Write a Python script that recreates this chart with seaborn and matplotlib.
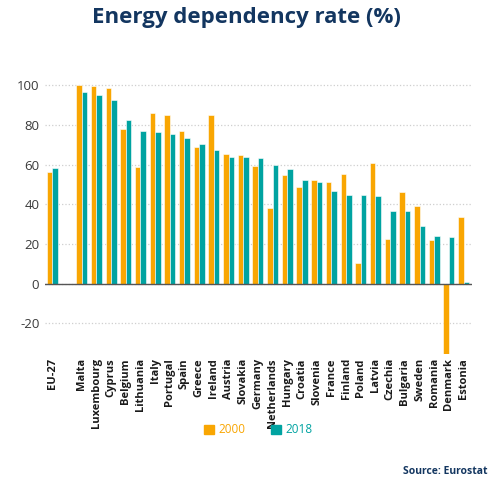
import matplotlib
matplotlib.use('Agg')
from matplotlib import pyplot as plt
from matplotlib.patches import Patch
import pandas as pd
import seaborn as sns

# Energy dependency rate (%), Eurostat
countries = ["EU-27", "Malta", "Luxembourg", "Cyprus", "Belgium", "Lithuania", "Italy",
             "Portugal", "Spain", "Greece", "Ireland", "Austria", "Slovakia", "Germany",
             "Netherlands", "Hungary", "Croatia", "Slovenia", "France", "Finland", "Poland",
             "Latvia", "Czechia", "Bulgaria", "Sweden", "Romania", "Denmark", "Estonia"]
rate_2000 = [56.2, 100.0, 99.5, 98.5, 78.1, 58.8, 86.2, 85.2, 76.8, 68.7, 85.2, 65.3, 64.8,
             59.1, 38.2, 54.9, 48.5, 52.5, 51.0, 55.4, 10.6, 60.9, 22.6, 46.3, 39.2, 21.9,
             -35.4, 33.8]
rate_2018 = [58.2, 96.5, 95.0, 92.4, 82.5, 77.1, 76.3, 75.6, 73.2, 70.4, 67.3, 64.1, 63.6,
             63.5, 59.6, 57.9, 52.5, 51.2, 46.5, 44.9, 44.6, 44.1, 36.7, 36.4, 29.0, 24.1,
             23.6, 0.8]
years = ["2000", "2018"]
y_ticks = [-20, 0, 20, 40, 60, 80, 100]

orange = '#F9A602'
teal = '#00A3A1'
navy = '#133660'

df = pd.DataFrame({
    'country': countries * 2,
    'rate': rate_2000 + rate_2018,
    'year': [years[0]] * len(countries) + [years[1]] * len(countries),
})
# blank slot after EU-27
order = [countries[0], ""] + countries[1:]

plt.rcParams['font.family'] = ['Open Sans', 'DejaVu Sans']
plt.rcParams['axes.unicode_minus'] = False
fig = plt.figure(figsize=(4.92, 4.84), dpi=100)
ax = fig.add_axes([0.0913, 0.2686, 0.8674, 0.5674])

sns.barplot(data=df, x='country', y='rate', hue='year', order=order,
            hue_order=years, palette=[orange, teal], saturation=1, width=0.75,
            edgecolor='white', linewidth=0.4, legend=False, ax=ax)

ax.set_ylim(-35.5, 103)
ax.set_xlim(-0.5, 28.55)
ax.set_yticks(y_ticks)
ax.set_xlabel('')
ax.set_ylabel('')
for s in ax.spines.values():
    s.set_visible(False)
ax.grid(axis='y', color='#cfcfcf', linestyle=':', linewidth=0.9)
ax.set_axisbelow(True)
ax.axhline(0, color='#555555', linewidth=1.0, zorder=3)
ax.tick_params(axis='both', length=0)
ax.tick_params(axis='y', labelsize=9.5, labelcolor='#3a3a3a', pad=4)
ax.tick_params(axis='x', labelsize=8, labelcolor='#1a1a1a', pad=3)
plt.setp(ax.get_xticklabels(), rotation=90, fontweight='bold')

fig.text(0.5, 0.964, 'Energy dependency rate (%)', ha='center', va='center',
         fontsize=16, fontweight='bold', color=navy)

handles = [Patch(color=orange, label='2000'), Patch(color=teal, label='2018')]
leg = fig.legend(handles=handles, loc='center', bbox_to_anchor=(0.525, 0.112), ncol=2,
                 frameon=False, fontsize=8.5, handlelength=0.8, handleheight=0.8,
                 handletextpad=0.4, columnspacing=2.2)
for t, c in zip(leg.get_texts(), [orange, teal]):
    t.set_color(c)

fig.text(0.99, 0.015, 'Source: Eurostat', ha='right', va='bottom',
         fontsize=7.5, fontweight='bold', color=navy)

fig.savefig('out.png', dpi=100)
